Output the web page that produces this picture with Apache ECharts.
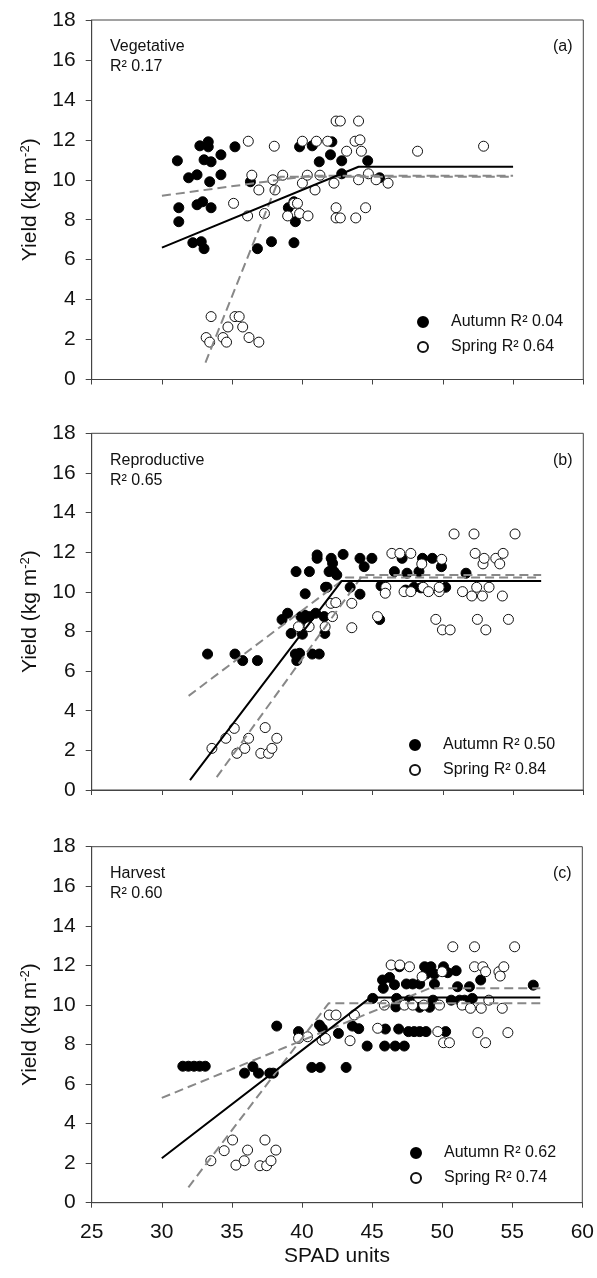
<!DOCTYPE html>
<html>
<head>
<meta charset="utf-8">
<script src="https://cdn.jsdelivr.net/npm/echarts@6/dist/echarts.min.js"></script>
<style>
html,body{margin:0;padding:0;background:#fff;}
#chart{width:597px;height:1278px;}
</style>
</head>
<body>
<div id="chart"></div>
<script>
// ---------- data (SPAD units, yield kg m-2) ----------
const xTicks = [25, 30, 35, 40, 45, 50, 55, 60];
const yTicks = [0, 2, 4, 6, 8, 10, 12, 14, 16, 18];

const panelNames = ['Vegetative', 'Reproductive', 'Harvest'];
const panelTags = ['(a)', '(b)', '(c)'];
const panelR2 = ['0.17', '0.65', '0.60'];
const autumnR2 = ['0.04', '0.50', '0.62'];
const springR2 = ['0.64', '0.84', '0.74'];

// (a) Vegetative
const vegAutumn = [[31.1,10.95],[31.2,8.6],[31.2,7.9],[31.9,10.1],[32.5,10.25],[32.7,11.7],[33.3,11.9],[33.3,11.65],
  [33.0,11.0],[33.5,10.9],[33.4,9.9],[34.2,11.25],[34.2,10.25],[32.5,8.75],[32.9,8.9],[33.5,8.6],[32.2,6.85],
  [32.8,6.9],[33.0,6.55],[35.2,11.65],[36.3,9.9],[36.8,6.55],[37.8,6.9],[39.4,6.85],[39.5,7.9],[39.0,8.6],
  [39.4,8.9],[39.8,11.65],[40.7,11.7],[41.2,10.9],[42.0,11.25],[42.1,11.9],[42.8,10.95],[42.8,10.3],[44.65,10.95],[45.5,10.1]];
const vegSpring = [[36.15,11.93],[38.0,11.68],[35.1,8.82],[36.4,10.23],[36.9,9.49],[38.05,9.49],[37.9,10.0],[38.6,10.23],
  [36.1,8.19],[37.3,8.31],[38.95,8.19],[39.4,8.82],[39.65,8.82],[39.8,8.31],[40.4,8.19],[40.0,9.83],[40.0,11.93],
  [40.35,10.23],[41.0,11.93],[40.9,9.49],[41.25,10.23],[41.8,11.93],[42.25,9.83],[42.4,12.94],[42.7,12.94],[42.4,8.6],
  [42.4,8.09],[42.7,8.09],[43.15,11.43],[43.75,11.93],[44.0,12.94],[44.1,12.0],[44.2,11.43],[44.0,10.0],[43.8,8.09],
  [44.5,8.6],[44.7,10.3],[45.25,10.0],[46.1,9.83],[48.2,11.43],[52.9,11.68],
  [33.5,3.15],[35.2,3.15],[35.5,3.15],[34.7,2.63],[35.75,2.63],[33.15,2.1],[33.4,1.87],[34.35,2.1],[34.6,1.87],[36.2,2.1],[36.9,1.87]];
const vegFitAll = [[30,6.6],[44.0,10.65],[55,10.65]];
const vegFitAutumn = [[30,9.2],[40.5,10.2],[55,10.2]];
const vegFitSpring = [[33.1,0.85],[38.4,10.15],[55,10.15]];

// (b) Reproductive
const repAutumn = [[33.25,6.86],[35.2,6.86],[35.75,6.53],[36.8,6.53],[38.55,8.6],[38.95,8.92],[39.2,7.9],[39.5,6.86],
  [39.6,6.53],[39.8,6.9],[39.9,8.75],[40.0,7.86],[40.15,8.83],[40.25,8.58],[40.5,8.75],[40.7,6.86],[41.2,6.86],
  [40.95,8.92],[41.55,8.75],[41.6,7.9],[39.55,11.02],[40.5,11.02],[40.2,9.9],[41.05,11.86],[41.05,11.69],[41.65,10.23],
  [41.75,10.23],[42.05,11.69],[42.15,11.44],[41.9,11.02],[42.25,11.02],[42.45,10.85],[42.9,11.89],[43.4,10.23],
  [44.1,11.69],[44.4,11.27],[44.95,11.69],[44.1,9.88],[45.5,8.6],[45.6,10.3],[46.55,11.02],[47.1,11.69],[47.45,10.94],
  [47.35,10.09],[47.95,10.23],[48.3,11.02],[48.55,11.69],[49.25,11.69],[49.9,11.27],[50.2,10.23],[48.45,10.2],[51.65,10.94]];
const repSpring = [[33.56,2.1],[34.55,2.61],[35.15,3.11],[35.34,1.85],[35.9,2.1],[36.17,2.61],[37.04,1.85],[37.59,1.85],
  [37.35,3.15],[37.83,2.1],[38.18,2.61],[39.72,8.24],[40.48,8.24],[41.62,8.24],[42.03,9.42],[42.38,9.46],[42.14,8.75],
  [43.52,9.42],[43.52,8.19],[45.35,8.75],[45.94,10.23],[45.9,9.93],[46.37,11.94],[46.94,11.94],[47.72,11.94],[47.24,10.01],
  [47.72,10.01],[48.5,11.41],[48.6,10.23],[48.98,10.01],[49.74,10.01],[49.74,10.23],[49.92,11.64],[49.5,8.61],[49.97,8.08],
  [50.52,8.08],[50.8,12.92],[51.4,10.01],[52.06,9.79],[52.22,12.92],[52.3,11.94],[52.41,10.23],[52.82,9.79],[52.86,11.41],
  [52.94,11.69],[52.46,8.61],[53.06,8.08],[53.29,10.23],[53.77,11.69],[54.05,11.41],[54.29,11.94],[54.24,9.79],[54.67,8.61],[55.14,12.92]];
const repFitAll = [[32.0,0.5],[42.8,10.55],[57,10.55]];
const repFitAutumn = [[31.9,4.75],[43.1,10.72],[57,10.72]];
const repFitSpring = [[33.9,0.65],[44.3,10.85],[57,10.85]];

// (c) Harvest
const harAutumn = [[31.5,6.9],[31.9,6.9],[32.3,6.9],[32.7,6.9],[33.1,6.9],[35.9,6.55],[36.5,6.88],[36.9,6.55],[37.7,6.55],
  [37.95,6.55],[38.2,8.93],[39.75,8.65],[40.7,6.84],[41.3,6.84],[41.25,8.98],[41.45,8.8],[42.6,8.56],[43.15,6.84],[43.6,8.93],
  [44.05,8.8],[44.65,7.92],[45.05,10.33],[45.9,7.92],[45.95,8.78],[46.9,8.78],[46.65,7.92],[47.3,7.92],[47.6,8.65],[48.0,8.65],
  [48.4,8.65],[48.85,8.65],[50.25,8.65],[45.75,11.26],[46.25,11.39],[46.6,11.02],[46.75,10.33],[46.95,11.93],[47.45,11.06],
  [47.9,11.06],[48.4,11.06],[48.75,11.93],[48.85,11.56],[49.2,11.93],[49.45,11.06],[50.1,11.93],[50.4,11.63],[51.0,11.73],
  [49.45,11.56],[51.1,10.92],[51.95,10.92],[52.75,11.26],[56.5,11.0],[47.65,10.24],[48.4,9.88],[49.1,9.88],[49.35,10.24],
  [50.65,10.24],[51.25,10.24],[51.6,10.24],[52.15,10.33],[46.7,9.9],[45.8,10.84]];
const harSpring = [[33.5,2.12],[34.45,2.63],[35.05,3.17],[35.29,1.9],[35.88,2.12],[36.12,2.66],[37.0,1.87],[37.48,1.87],
  [37.36,3.17],[37.79,2.12],[38.14,2.66],[39.76,8.31],[40.4,8.39],[41.43,8.22],[41.67,8.31],[41.95,9.49],[42.43,9.49],
  [43.43,8.19],[43.74,9.49],[45.4,8.82],[45.88,9.99],[46.36,12.02],[46.98,12.02],[47.67,11.93],[47.31,9.99],[47.9,9.99],
  [48.57,11.43],[48.69,9.99],[49.81,9.99],[50.0,11.68],[50.1,8.09],[50.52,8.09],[49.69,8.65],[50.76,12.94],[51.43,9.99],
  [52.02,9.83],[52.31,12.94],[52.31,11.93],[52.79,9.83],[52.9,11.93],[53.1,11.68],[52.55,8.6],[53.1,8.09],[53.33,10.24],
  [54.29,9.83],[54.05,11.68],[54.14,11.46],[54.4,11.93],[54.69,8.6],[55.17,12.94]];
const harFitAll = [[30,2.25],[44.9,10.38],[57,10.38]];
const harFitAutumn = [[30,5.3],[49.1,10.84],[57,10.84]];
const harFitSpring = [[31.9,0.78],[41.9,10.08],[57,10.08]];

const autumnData = [vegAutumn, repAutumn, harAutumn];
const springData = [vegSpring, repSpring, harSpring];
const fitAll = [vegFitAll, repFitAll, harFitAll];
const fitAutumn = [vegFitAutumn, repFitAutumn, harFitAutumn];
const fitSpring = [vegFitSpring, repFitSpring, harFitSpring];

// ---------- layout ----------
const FONT = 'Liberation Sans, Arial, sans-serif';
const gridBoxes = [
  {left: 91.7, top: 20, width: 491.6, height: 359.5},
  {left: 91.7, top: 433.3, width: 491.6, height: 356.7},
  {left: 91.7, top: 846.7, width: 491.6, height: 356}
];
const legendPos = [{left: 417, top: 314}, {left: 409, top: 737}, {left: 410, top: 1145}];
const AXIS_COLOR = '#444';

const grid = [], xAxis = [], yAxis = [], series = [], legend = [], graphic = [];

gridBoxes.forEach((g, i) => {
  grid.push({left: g.left, top: g.top, width: g.width, height: g.height, show: true,
    borderColor: AXIS_COLOR, borderWidth: 1, backgroundColor: 'transparent'});
  const last = i === 2;
  xAxis.push({
    type: 'value', gridIndex: i, min: xTicks[0], max: xTicks[xTicks.length - 1], interval: 5,
    name: last ? 'SPAD units' : '', nameLocation: 'middle', nameGap: 43,
    nameTextStyle: {fontFamily: FONT, fontSize: 21, color: '#111'},
    axisLine: {show: true, lineStyle: {color: AXIS_COLOR, width: 1}},
    axisTick: {show: true, inside: false, length: 5, lineStyle: {color: AXIS_COLOR}},
    axisLabel: {show: last, margin: 19, fontFamily: FONT, fontSize: 21, color: '#111'},
    splitLine: {show: false}
  });
  yAxis.push({
    type: 'value', gridIndex: i, min: yTicks[0], max: yTicks[yTicks.length - 1], interval: 2,
    name: '{a|Yield (kg m}{s|-2}{a|)}', nameLocation: 'middle', nameGap: 49, nameRotate: 90,
    nameTextStyle: {fontFamily: FONT, color: '#111',
      rich: {a: {fontFamily: FONT, fontSize: 21, lineHeight: 24, color: '#111'},
             s: {fontFamily: FONT, fontSize: 13, lineHeight: 14, verticalAlign: 'top', color: '#111'}}},
    axisLine: {show: true, lineStyle: {color: AXIS_COLOR, width: 1}},
    axisTick: {show: true, inside: false, length: 6, lineStyle: {color: AXIS_COLOR}},
    axisLabel: {show: true, margin: 16, fontFamily: FONT, fontSize: 21, color: '#111'},
    splitLine: {show: false}
  });

  const aName = 'Autumn R\u00B2 ' + autumnR2[i];
  const sName = 'Spring R\u00B2 ' + springR2[i];
  series.push({
    type: 'scatter', name: aName, xAxisIndex: i, yAxisIndex: i, data: autumnData[i],
    symbol: 'circle', symbolSize: 10, itemStyle: {color: '#000', borderColor: '#000', borderWidth: 1, opacity: 1}, z: 2
  });
  series.push({
    type: 'scatter', name: sName, xAxisIndex: i, yAxisIndex: i, data: springData[i],
    symbol: 'circle', symbolSize: 10, itemStyle: {color: '#fff', borderColor: '#111', borderWidth: 1, opacity: 1}, z: 2
  });
  const lineCommon = {type: 'line', xAxisIndex: i, yAxisIndex: i, showSymbol: false, symbol: 'none',
    silent: true, z: 4, animation: false};
  series.push(Object.assign({}, lineCommon, {data: fitAutumn[i],
    lineStyle: {color: '#888', width: 2, type: [9, 5]}}));
  series.push(Object.assign({}, lineCommon, {data: fitSpring[i],
    lineStyle: {color: '#888', width: 2, type: [9, 5]}}));
  series.push(Object.assign({}, lineCommon, {data: fitAll[i],
    lineStyle: {color: '#000', width: 2, type: 'solid'}}));

  legend.push({
    data: [aName, sName], orient: 'vertical', left: legendPos[i].left, top: legendPos[i].top,
    itemWidth: 46, itemHeight: 10, itemGap: 9, symbolKeepAspect: true, selectedMode: false,
    padding: 0, textStyle: {fontFamily: FONT, fontSize: 16, color: '#111', lineHeight: 16}
  });

  graphic.push({
    type: 'text', left: 110, top: g.top + 17,
    style: {text: panelNames[i] + '\nR\u00B2 ' + panelR2[i], font: '16px ' + FONT, fill: '#111', lineHeight: 20}
  });
  graphic.push({
    type: 'text', left: 553, top: g.top + 17,
    style: {text: panelTags[i], font: '16px ' + FONT, fill: '#111', lineHeight: 20}
  });
});

const chart = echarts.init(document.getElementById('chart'), null, {renderer: 'canvas'});
chart.setOption({
  animation: false,
  backgroundColor: '#fff',
  grid, xAxis, yAxis, series, legend, graphic
});
</script>
</body>
</html>
